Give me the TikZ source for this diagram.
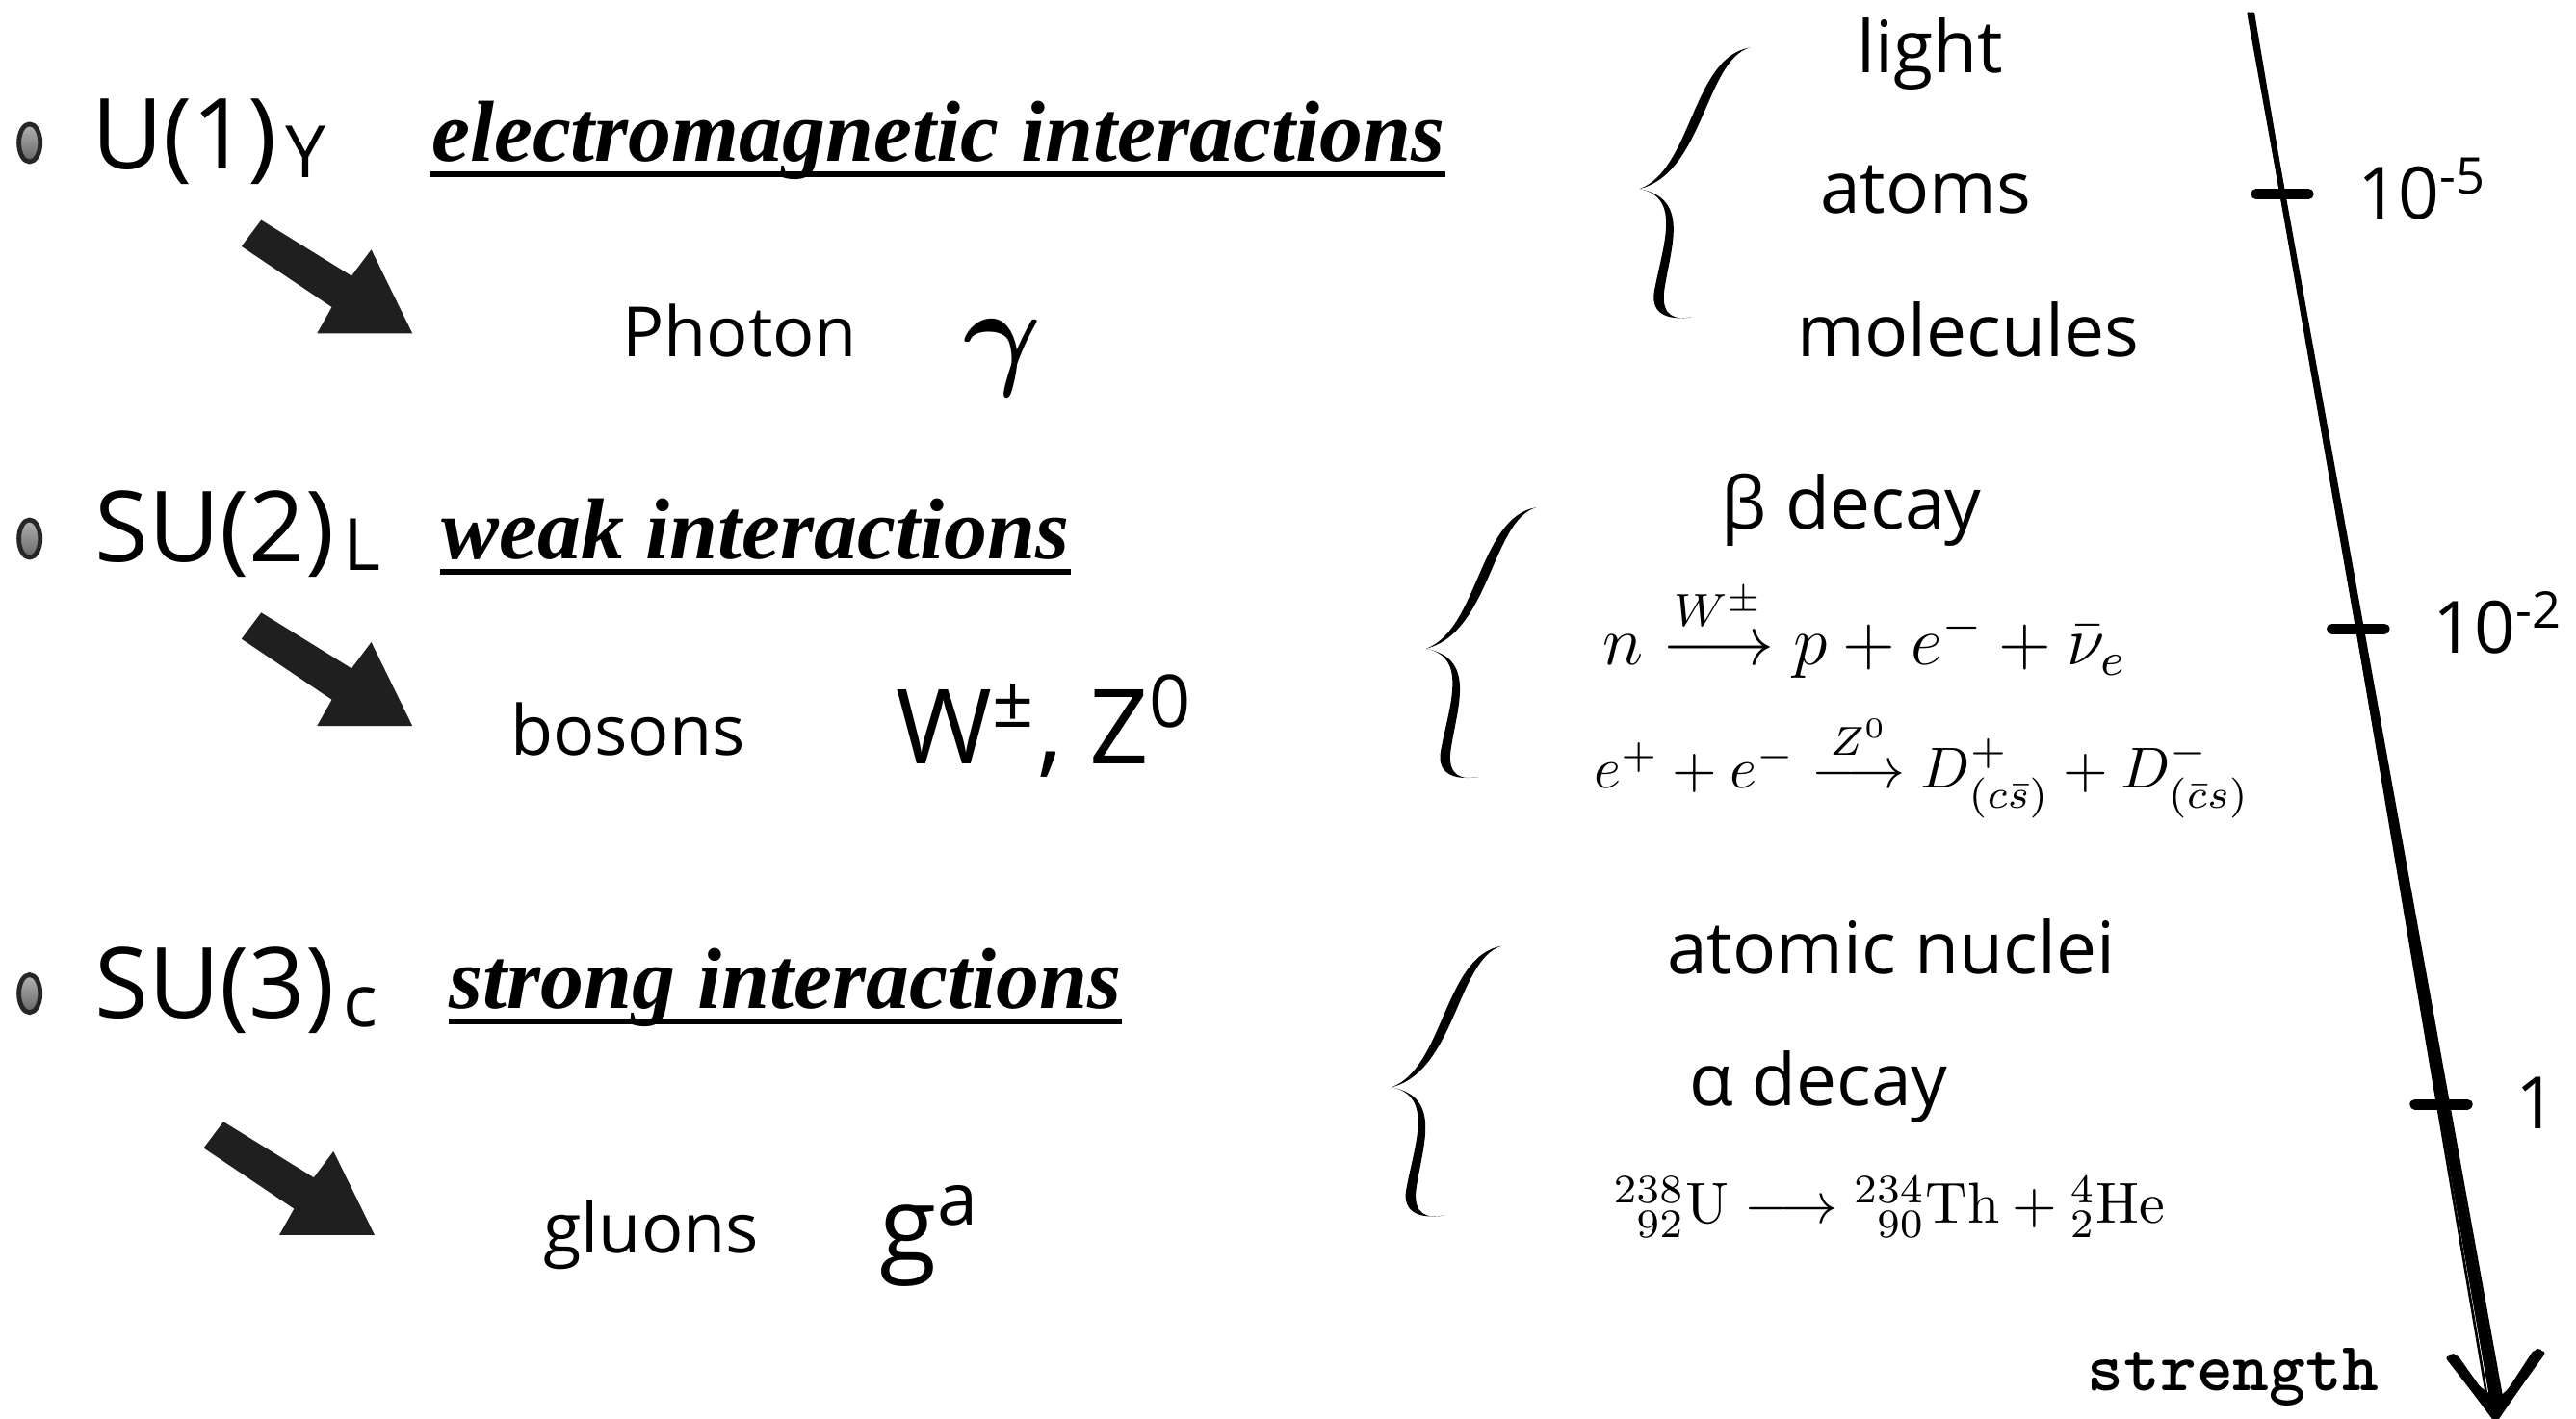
\documentclass[tikz,border=0pt]{standalone}
\usepackage[no-math]{fontspec}
\usepackage{amsmath}
\usetikzlibrary{calc}
\newfontfamily\gillfont{Open Sans}
\newfontfamily\forcefont{Liberation Serif}
\newcommand\grpsub[1]{\hspace{1.5pt}\raisebox{-1.5pt}{\fontsize{12.5}{14}\selectfont#1}}
\tikzset{
	curly/.pic={
		\fill (0,0) .. controls (0.32,0.12) and (0.32,0.80) .. (0.67,0.86)
			.. controls (0.40,0.78) and (0.39,0.10) .. (0,0) -- cycle;
		\fill (0,0) .. controls (0.26,-0.05) and (0.14,-0.35) .. (0.09,-0.62)
			.. controls (0.06,-0.78) and (0.20,-0.80) .. (0.32,-0.78)
			.. controls (0.22,-0.80) and (0.13,-0.78) .. (0.15,-0.62)
			.. controls (0.19,-0.35) and (0.31,-0.06) .. (0,0) -- cycle;
	},
	fatarrow/.pic={
		\fill[black!88] (0,0) -- (-0.58,0) -- (-0.49,0.16) -- (-1.04,0.53) -- (-0.92,0.69) -- (-0.37,0.35) -- (-0.25,0.51) -- cycle;
	}
}
\begin{document}
\begin{tikzpicture}[line join=round,line cap=round,
	group/.style={font=\gillfont\fontsize{17}{20}\selectfont,anchor=base west,inner sep=0pt},
	force/.style={font=\forcefont\bfseries\itshape\fontsize{15}{18}\selectfont,anchor=base west,inner sep=0pt},
	item/.style={font=\gillfont\fontsize{12.5}{15}\selectfont,anchor=base,inner sep=0pt},
	boson/.style={font=\gillfont\fontsize{12}{14}\selectfont,anchor=base west,inner sep=0pt},
	field/.style={font=\gillfont\fontsize{18}{21}\selectfont,anchor=base west,inner sep=0pt},
	eqn/.style={font=\fontsize{10}{12}\selectfont,anchor=base,inner sep=0pt}]
	\useasboundingbox[fill=white] (0,0) rectangle (15.68,-8.64);
	\foreach \y in {-0.87,-3.28,-6.05}{\draw[black!85,line width=0.8pt,top color=black!30,bottom color=black!60] (0.18,\y) ellipse (0.065 and 0.115);}
	\node[group] (u1) at (0.55,-1.03) {U(1)\grpsub{Y}};
	\node[group] (su2) at (0.57,-3.42) {SU(2)\grpsub{L}};
	\node[group] (su3) at (0.57,-6.20) {SU(3)\grpsub{c}};
	\node[force] (em) at (2.62,-0.98) {electromagnetic interactions};
	\node[force] (weak) at (2.68,-3.40) {weak interactions};
	\node[force] (strong) at (2.73,-6.14) {strong interactions};
	\foreach \n in {em,weak,strong}{\draw[line width=1pt,line cap=butt] ([yshift=-2.3pt]\n.base west) -- ([yshift=-2.3pt]\n.base east);}
	\pic at (2.51,-2.03) {fatarrow};
	\pic at (2.51,-4.42) {fatarrow};
	\pic at (2.28,-7.52) {fatarrow};
	\node[boson] (photon) at (3.78,-2.17) {Photon};
	\node[anchor=base west,inner sep=0pt,font=\fontsize{20}{24}\selectfont] (gamma) at (5.86,-2.27) {$\boldsymbol{\gamma}$};
	\node[boson] (bosons) at (3.10,-4.60) {bosons};
	\node[field] (wz) at (5.45,-4.65) {W\textsuperscript{±}, Z\textsuperscript{0}};
	\node[boson] (gluons) at (3.30,-7.63) {gluons};
	\node[field] (ga) at (5.35,-7.68) {g\textsuperscript{a}};
	\pic at (9.98,-1.15) {curly};
	\pic at (8.68,-3.95) {curly};
	\pic at (8.47,-6.62) {curly};
	\node[item] (light) at (11.75,-0.44) {light};
	\node[item] (atoms) at (11.72,-1.30) {atoms};
	\node[item] (molec) at (11.98,-2.17) {molecules};
	\node[item] (beta) at (11.27,-3.22) {β decay};
	\node[eqn,font=\fontsize{11.5}{13}\selectfont] (ndecay) at (11.35,-4.05) {$n \stackrel{W^{\pm}}{\longrightarrow} p + e^- + \bar{\nu}_e$};
	\node[eqn] (ddecay) at (11.70,-4.80) {$e^+ + e^- \stackrel{Z^0}{\longrightarrow} D^+_{(c\bar{s})} + D^-_{(\bar{c}s)}$};
	\node[item] (nuclei) at (11.51,-5.93) {atomic nuclei};
	\node[item] (alpha) at (11.07,-6.73) {α decay};
	\node[eqn] (udecay) at (11.50,-7.45) {${}^{238}_{\hphantom{2}92}\mathrm{U} \longrightarrow {}^{234}_{\hphantom{2}90}\mathrm{Th} + {}^{4}_{2}\mathrm{He}$};
	\coordinate (top) at (13.70,-0.08);
	\coordinate (tip) at (15.19,-8.62);
	\fill (13.69,-0.08) -- (13.71,-0.08) -- (15.225,-8.55) -- (15.16,-8.55) -- cycle;
	\foreach \a/\b in {-0.015/0.03,0.015/-0.045,0.005/0.045,-0.008/-0.02}{\draw[line width=0.45pt] ($(top)+(\a,0)$) -- ($(tip)+(\b,0.07)$);}
	\fill ($(tip)+(-0.26,0.30)$) -- (tip) -- ($(tip)+(0.25,0.33)$) -- ($(tip)+(0.01,0.10)$) -- cycle;
	\foreach \a/\w in {-0.025/0.8pt,0/1.6pt,0.025/0.8pt}{\draw[line width=\w] ($(tip)+(-0.26+\a,0.35)$) -- ($(tip)+(\a/2,0)$) -- ($(tip)+(0.26+\a,0.38)$);}
	\foreach \f/\lab [count=\i] in {0.129/10\textsuperscript{-5},0.439/10\textsuperscript{-2},0.778/1}{
		\coordinate (t\i) at ($(top)!\f!(tip)$);
		\draw[line width=1.8pt] ([xshift=-0.16cm]t\i) -- ([xshift=0.16cm]t\i);
		\node[anchor=base west,inner sep=0pt,font=\gillfont\fontsize{12.5}{15}\selectfont] (lab\i) at ([xshift=0.45cm,yshift=-0.15cm]t\i) {\lab};
	}
	\node[anchor=base west,inner sep=0pt,font=\ttfamily\bfseries\fontsize{12}{14}\selectfont] (strength) at (12.70,-8.47) {strength};
\end{tikzpicture}
\end{document}
